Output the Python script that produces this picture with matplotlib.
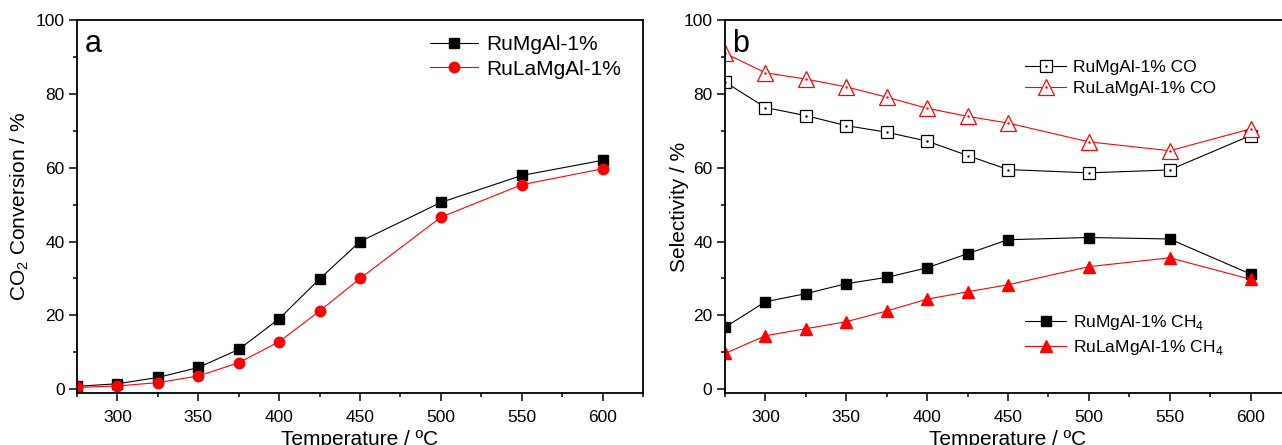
import matplotlib
matplotlib.use('Agg')
import matplotlib.pyplot as plt
from matplotlib.ticker import MultipleLocator
from matplotlib.legend_handler import HandlerTuple

plt.rcParams['font.family'] = ['Liberation Sans', 'DejaVu Sans']
plt.rcParams['mathtext.fontset'] = 'custom'
plt.rcParams['mathtext.rm'] = 'Liberation Sans'

# temperatures (degC)
temp = [275, 300, 325, 350, 375, 400, 425, 450, 500, 550, 600]

# panel a: CO2 conversion (%)
conv_rumgal = [0.8, 1.5, 3.2, 5.9, 10.8, 19.1, 29.9, 40.0, 50.6, 57.9, 62.0]
conv_rulamgal = [0.5, 0.9, 1.8, 3.6, 7.2, 12.9, 21.2, 30.0, 46.6, 55.4, 59.7]

# panel b: selectivity (%)
co_rumgal = [83.2, 76.3, 74.1, 71.4, 69.6, 67.2, 63.3, 59.5, 58.6, 59.4, 68.7]
co_rulamgal = [91.0, 85.7, 84.0, 81.9, 79.1, 76.1, 73.9, 72.1, 67.0, 64.6, 70.5]
ch4_rumgal = [16.8, 23.7, 25.9, 28.6, 30.3, 32.9, 36.7, 40.5, 41.1, 40.7, 31.2]
ch4_rulamgal = [9.7, 14.5, 16.4, 18.3, 21.2, 24.4, 26.4, 28.3, 33.2, 35.6, 29.8]

fig = plt.figure(figsize=(12.82, 4.45), dpi=100)
ax1 = fig.add_axes([0.0601, 0.1169, 0.4415, 0.8382])
ax2 = fig.add_axes([0.5655, 0.1169, 0.4415, 0.8382])


def style_axis(ax, ylabel, ypad):
    ax.set_xlim(275, 625)
    ax.set_ylim(-1, 100)
    ax.xaxis.set_major_locator(MultipleLocator(50))
    ax.xaxis.set_minor_locator(MultipleLocator(25))
    ax.yaxis.set_major_locator(MultipleLocator(20))
    ax.yaxis.set_minor_locator(MultipleLocator(10))
    ax.tick_params(which='major', direction='out', length=6, width=1.1, labelsize=12.5, pad=3)
    ax.tick_params(axis='x', which='major', pad=6)
    ax.tick_params(which='minor', direction='out', length=3, width=1.1)
    ax.tick_params(top=False, right=False, which='both')
    for s in ax.spines.values():
        s.set_linewidth(1.3)
    ax.set_xlabel('Temperature / ºC', fontsize=15, labelpad=4)
    ax.set_ylabel(ylabel, fontsize=15, labelpad=ypad)


# panel a
ax1.plot(temp, conv_rumgal, '-s', color='black', lw=0.8, ms=6.5, label='RuMgAl-1%')
ax1.plot(temp, conv_rulamgal, '-o', color='red', lw=0.8, ms=7.5, label='RuLaMgAl-1%')
style_axis(ax1, 'CO$_\\mathregular{2}$ Conversion / %', 3)
ax1.text(0.013, 0.975, 'a', transform=ax1.transAxes, fontsize=22, va='top', ha='left')
ax1.legend(loc='upper right', bbox_to_anchor=(0.995, 1.009), frameon=False, fontsize=15,
           handlelength=2.3, handletextpad=0.4, labelspacing=0.25)

# panel b
l1, = ax2.plot(temp, co_rumgal, '-s', color='black', mfc='white', mec='black', lw=0.8, ms=9, mew=0.9)
d1, = ax2.plot(temp, co_rumgal, '.', color='black', ms=1.5)
l2, = ax2.plot(temp, co_rulamgal, '-^', color='red', mfc='white', mec='red', lw=0.8, ms=11, mew=0.9)
d2, = ax2.plot(temp, co_rulamgal, '.', color='red', ms=1.5)
l3, = ax2.plot(temp, ch4_rumgal, '-s', color='black', lw=0.8, ms=6.5)
l4, = ax2.plot(temp, ch4_rulamgal, '-^', color='red', lw=0.8, ms=8)
style_axis(ax2, 'Selectivity / %', -4)
ax2.text(0.013, 0.975, 'b', transform=ax2.transAxes, fontsize=22, va='top', ha='left')

leg_co = ax2.legend([(l1, d1), (l2, d2)], ['RuMgAl-1% CO', 'RuLaMgAl-1% CO'],
                    handler_map={tuple: HandlerTuple(ndivide=1, pad=0)},
                    loc='upper left', bbox_to_anchor=(0.502, 0.936), frameon=False, fontsize=12.5,
                    handlelength=2.4, handletextpad=0.4, labelspacing=0.35)
ax2.add_artist(leg_co)
ax2.legend([l3, l4], ['RuMgAl-1% CH$_\\mathregular{4}$', 'RuLaMgAl-1% CH$_\\mathregular{4}$'],
           loc='upper left', bbox_to_anchor=(0.502, 0.255), frameon=False, fontsize=12.5,
           handlelength=2.4, handletextpad=0.4, labelspacing=0.3)

fig.savefig('out.png', dpi=100)
